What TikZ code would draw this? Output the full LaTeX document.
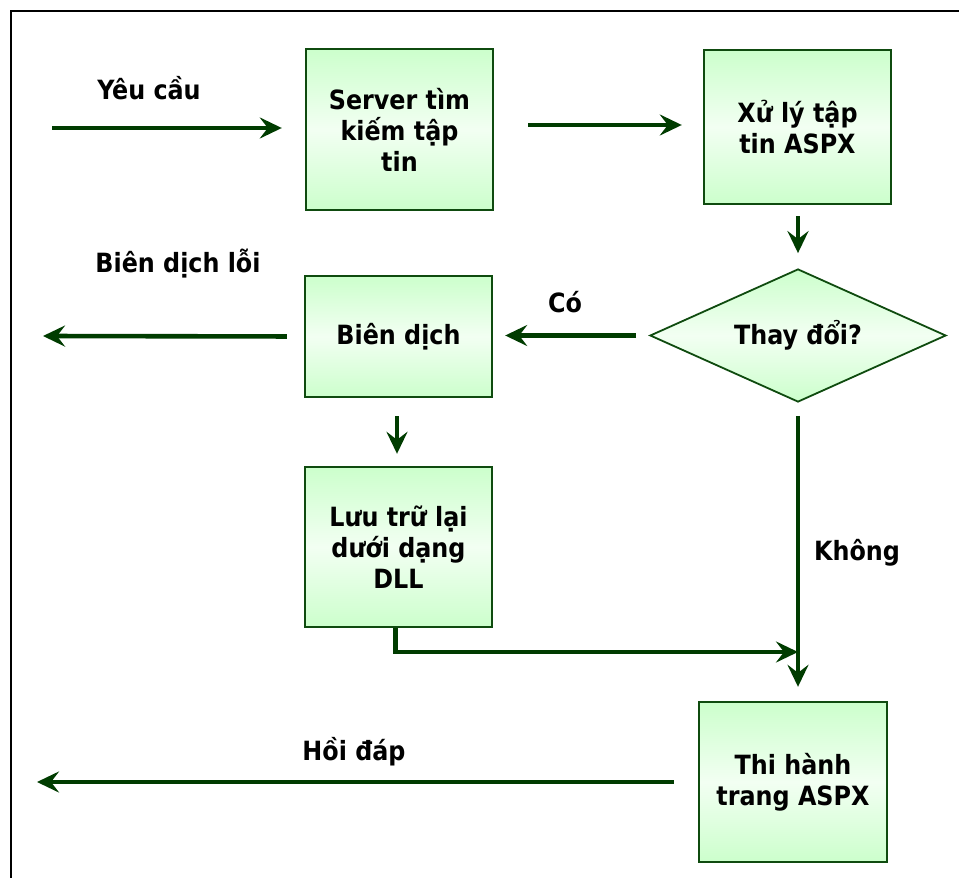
\documentclass[tikz,border=0pt]{standalone}
\usepackage{fontspec}
\setmainfont{DejaVu Sans Condensed}
\usetikzlibrary{arrows.meta,shapes.geometric,calc}
\definecolor{arrowgreen}{RGB}{0,60,0}
\definecolor{edgegreen}{RGB}{15,75,15}
\definecolor{boxgreen}{RGB}{204,255,204}
\tikzset{
  procbox/.style={draw=edgegreen, line width=2.4pt, rectangle, align=center,
    top color=boxgreen, bottom color=boxgreen, middle color=white!75!boxgreen,
    font=\fontsize{26.5}{31}\selectfont\bfseries, inner sep=0pt},
  decbox/.style={draw=edgegreen, line width=1.8pt, diamond, aspect=2.2, align=center,
    top color=boxgreen, bottom color=boxgreen, middle color=white!75!boxgreen,
    font=\fontsize{26.5}{31}\selectfont\bfseries, inner sep=0pt,
    minimum width=296pt, minimum height=133pt},
  lbl/.style={font=\fontsize{26.5}{31}\selectfont\bfseries, anchor=base, inner sep=0pt},
  arr/.style={draw=arrowgreen, line width=4.6pt,
    -{Stealth[length=22pt,width=21pt,inset=8pt]}}
}
\begin{document}
\begin{tikzpicture}[x=1pt,y=-1pt]
\useasboundingbox (0,0) rectangle (959,878);
\fill[white] (0,0) rectangle (959,878);
% frame
\draw[black, line width=2pt] (959,11) -- (11,11) -- (11,878);

% boxes
\node[procbox, minimum width=187pt, minimum height=161pt] (srv) at (399.5,129.5) {Server tìm\\kiếm tập\\tin};
\node[procbox, minimum width=187pt, minimum height=154pt] (xly) at (797.5,127) {Xử lý tập\\tin ASPX};
\node[decbox] (dia) at (798,335.5) {Thay đổi?};
\node[procbox, minimum width=187pt, minimum height=121pt] (bd) at (398.5,336.5) {Biên dịch};
\node[procbox, minimum width=187pt, minimum height=160pt] (lt) at (398.5,547) {Lưu trữ lại\\dưới dạng\\DLL};
\node[procbox, minimum width=188pt, minimum height=160pt] (th) at (793,782) {Thi hành\\trang ASPX};

% free ends
\coordinate (in1) at (52,128);
\coordinate (out1) at (43,336);
\coordinate (out2) at (37,782);
\coordinate (join) at (798,652);

% labels
\node[lbl] (lyc) at (149,99) {Yêu cầu};
\node[lbl] (lbdl) at (178,272) {Biên dịch lỗi};
\node[lbl] (lco) at (565,312) {Có};
\node[lbl] (lkh) at (857,560) {Không};
\node[lbl] (lhd) at (354,760) {Hồi đáp};

% connectors
\draw[arr, shorten >=23pt] (in1) -- (in1 -| srv.west);
\draw[arr, shorten <=34pt, shorten >=21pt] (srv.east |- 0,125) -- (xly.west |- 0,125);
\draw[arr, shorten <=11pt, shorten >=15pt] (xly.south -| dia.north) -- (dia.north);
\draw[arr, shorten <=13pt, shorten >=12pt] (dia.west) -- (bd.east |- dia.west);
\draw[arr, shorten <=17pt] (bd.west) -- (out1);
\draw[arr, shorten <=18pt, shorten >=12pt] ([xshift=-1.5pt]bd.south) -- ([xshift=-1.5pt]lt.north);
\draw[arr] ([xshift=-3pt]lt.south) |- (join);
\draw[arr, shorten <=13pt, shorten >=14pt] (dia.south) -- (dia.south |- th.north);
\draw[arr, shorten <=24pt] (th.west |- out2) -- (out2);
\end{tikzpicture}
\end{document}
